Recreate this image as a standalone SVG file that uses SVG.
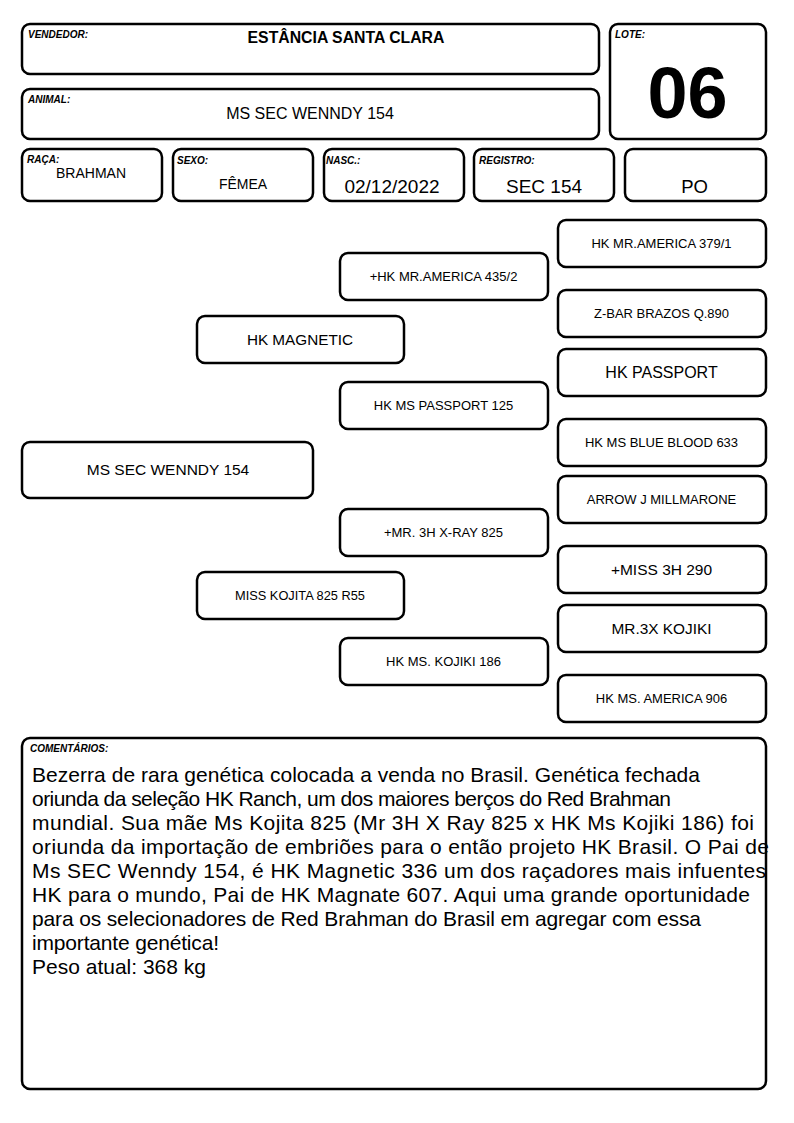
<svg xmlns="http://www.w3.org/2000/svg" width="794" height="1123" viewBox="0 0 794 1123">
<style>
.box{fill:#fff;stroke:#000;stroke-width:2.5}
.lbl{font-family:"Liberation Sans",Arial,sans-serif;font-weight:bold;font-style:italic;font-size:10px;fill:#000}
.t{font-family:"Liberation Sans",Arial,sans-serif;fill:#000;text-anchor:middle}
.c{font-family:"Liberation Sans",Arial,sans-serif;fill:#000;font-size:21px}
</style>
<rect width="794" height="1123" fill="#fff"/>
<g id="vendedor">
<rect class="box" x="22" y="24" width="577" height="50" rx="8"/>
<text class="lbl" x="28" y="38">VENDEDOR:</text>
<text class="t" x="346" y="43" font-size="15.8" font-weight="bold">ESTÂNCIA SANTA CLARA</text>
</g>
<g id="animal">
<rect class="box" x="22" y="89" width="577" height="50" rx="8"/>
<text class="lbl" x="28" y="103">ANIMAL:</text>
<text class="t" x="310" y="119" font-size="16">MS SEC WENNDY 154</text>
</g>
<g id="lote">
<rect class="box" x="610" y="24" width="156" height="115" rx="8"/>
<text class="lbl" x="615" y="38">LOTE:</text>
<text class="t" x="687.5" y="118" font-size="72" font-weight="bold">06</text>
</g>
<g id="raca">
<rect class="box" x="22" y="149" width="140" height="52" rx="8"/>
<text class="lbl" x="27" y="163">RAÇA:</text>
<text class="t" x="91" y="178" font-size="14">BRAHMAN</text>
</g>
<g id="sexo">
<rect class="box" x="173" y="149" width="140" height="52" rx="8"/>
<text class="lbl" x="177" y="164">SEXO:</text>
<text class="t" x="243" y="189" font-size="14">FÊMEA</text>
</g>
<g id="nasc">
<rect class="box" x="324" y="149" width="140" height="52" rx="8"/>
<text class="lbl" x="326" y="164">NASC.:</text>
<text class="t" x="392" y="193" font-size="19">02/12/2022</text>
</g>
<g id="registro">
<rect class="box" x="474" y="149" width="140" height="52" rx="8"/>
<text class="lbl" x="479" y="164">REGISTRO:</text>
<text class="t" x="544" y="193" font-size="19">SEC 154</text>
</g>
<g id="po">
<rect class="box" x="625" y="149" width="141" height="52" rx="8"/>
<text class="t" x="694.5" y="193" font-size="18.5">PO</text>
</g>
<g id="connectors"></g>
<g id="p0">
<rect class="box" x="22" y="442" width="291" height="56" rx="8"/>
<text class="t" x="168" y="475" font-size="15.5">MS SEC WENNDY 154</text>
</g>
<g id="p1a">
<rect class="box" x="197" y="316" width="207" height="47" rx="8"/>
<text class="t" x="300" y="344.5" font-size="15.3">HK MAGNETIC</text>
</g>
<g id="p1b">
<rect class="box" x="197" y="572" width="207" height="47" rx="8"/>
<text class="t" x="300" y="599.7" font-size="12.8">MISS KOJITA 825 R55</text>
</g>
<g id="p2a">
<rect class="box" x="340" y="253" width="208" height="47" rx="8"/>
<text class="t" x="443.5" y="280.7" font-size="13">+HK MR.AMERICA 435/2</text>
</g>
<g id="p2b">
<rect class="box" x="340" y="382" width="208" height="47" rx="8"/>
<text class="t" x="443.5" y="409.7" font-size="13">HK MS PASSPORT 125</text>
</g>
<g id="p2c">
<rect class="box" x="340" y="509" width="208" height="47" rx="8"/>
<text class="t" x="443.5" y="536.7" font-size="13">+MR. 3H X-RAY 825</text>
</g>
<g id="p2d">
<rect class="box" x="340" y="638" width="208" height="47" rx="8"/>
<text class="t" x="443.5" y="665.7" font-size="13">HK MS. KOJIKI 186</text>
</g>
<g id="p3a">
<rect class="box" x="558" y="220" width="208" height="47" rx="8"/>
<text class="t" x="661.5" y="247.7" font-size="13">HK MR.AMERICA 379/1</text>
</g>
<g id="p3b">
<rect class="box" x="558" y="290" width="208" height="47" rx="8"/>
<text class="t" x="661.5" y="317.7" font-size="13">Z-BAR BRAZOS Q.890</text>
</g>
<g id="p3c">
<rect class="box" x="558" y="349" width="208" height="47" rx="8"/>
<text class="t" x="661.5" y="377.7" font-size="16">HK PASSPORT</text>
</g>
<g id="p3d">
<rect class="box" x="558" y="419" width="208" height="47" rx="8"/>
<text class="t" x="661.5" y="446.7" font-size="13">HK MS BLUE BLOOD 633</text>
</g>
<g id="p3e">
<rect class="box" x="558" y="476" width="208" height="47" rx="8"/>
<text class="t" x="661.5" y="503.7" font-size="13">ARROW J MILLMARONE</text>
</g>
<g id="p3f">
<rect class="box" x="558" y="546" width="208" height="47" rx="8"/>
<text class="t" x="661.5" y="574.6" font-size="15.5">+MISS 3H 290</text>
</g>
<g id="p3g">
<rect class="box" x="558" y="605" width="208" height="47" rx="8"/>
<text class="t" x="661.5" y="633.6" font-size="15.4">MR.3X KOJIKI</text>
</g>
<g id="p3h">
<rect class="box" x="558" y="675" width="208" height="47" rx="8"/>
<text class="t" x="661.5" y="702.7" font-size="13">HK MS. AMERICA 906</text>
</g>
<g id="comentarios">
<rect class="box" x="22" y="738" width="744" height="351" rx="8"/>
<text class="lbl" x="30" y="752">COMENTÁRIOS:</text>
<text class="c" x="32" y="782" textLength="668" lengthAdjust="spacing">Bezerra de rara genética colocada a venda no Brasil. Genética fechada</text>
<text class="c" x="32" y="806" textLength="639" lengthAdjust="spacing">oriunda da seleção HK Ranch, um dos maiores berços do Red Brahman</text>
<text class="c" x="32" y="830" textLength="722" lengthAdjust="spacing">mundial. Sua mãe Ms Kojita 825 (Mr 3H X Ray 825 x HK Ms Kojiki 186) foi</text>
<text class="c" x="32" y="854" textLength="737" lengthAdjust="spacing">oriunda da importação de embriões para o então projeto HK Brasil. O Pai de</text>
<text class="c" x="32" y="878" textLength="734" lengthAdjust="spacing">Ms SEC Wenndy 154, é HK Magnetic 336 um dos raçadores mais infuentes</text>
<text class="c" x="32" y="902" textLength="718" lengthAdjust="spacing">HK para o mundo, Pai de HK Magnate 607. Aqui uma grande oportunidade</text>
<text class="c" x="32" y="926" textLength="669" lengthAdjust="spacing">para os selecionadores de Red Brahman do Brasil em agregar com essa</text>
<text class="c" x="32" y="950" textLength="187" lengthAdjust="spacing">importante genética!</text>
<text class="c" x="32" y="974" textLength="174" lengthAdjust="spacing">Peso atual: 368 kg</text>
</g>
</svg>
